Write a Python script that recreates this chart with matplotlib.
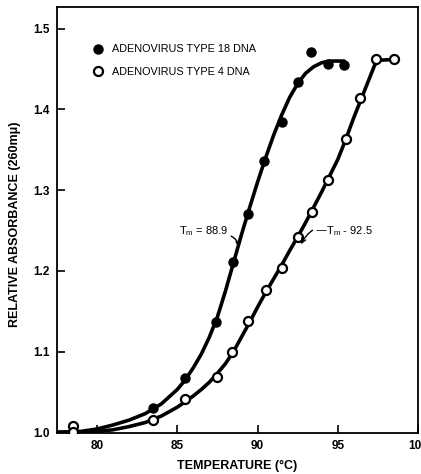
import matplotlib
matplotlib.use("Agg")
import matplotlib.pyplot as plt

# Data points: Adenovirus type 18 DNA (filled)
t18_x = [83.5, 85.5, 87.4, 88.5, 89.4, 90.4, 91.5, 92.5, 93.3, 94.4, 95.4]
t18_y = [1.030, 1.067, 1.136, 1.211, 1.271, 1.336, 1.385, 1.434, 1.471, 1.456, 1.455]

# Adenovirus type 4 DNA (open)
t4_x = [78.5, 78.5, 83.5, 85.5, 87.5, 88.4, 89.4, 90.5, 91.5, 92.5, 93.4, 94.4, 95.5, 96.4, 97.4, 98.5]
t4_y = [1.008, 1.000, 1.015, 1.041, 1.069, 1.100, 1.138, 1.176, 1.203, 1.242, 1.273, 1.312, 1.364, 1.414, 1.462, 1.462]

# Hand-drawn fitted curves
c18_x = [77.6, 79, 80, 81, 82, 83, 84, 85, 85.5, 86, 86.5, 87, 87.5, 88, 88.5, 89, 89.5, 90,
         90.5, 91, 91.5, 92, 92.5, 93, 93.5, 94, 94.5, 95.4]
c18_y = [1.0, 1.001, 1.004, 1.009, 1.015, 1.023, 1.035, 1.053, 1.065, 1.08, 1.097, 1.118, 1.143,
         1.175, 1.21, 1.245, 1.278, 1.31, 1.34, 1.368, 1.393, 1.415, 1.432, 1.445, 1.453, 1.458,
         1.46, 1.46]
c4_x = [77.6, 79, 80, 81, 82, 83, 84, 85, 85.5, 86, 86.5, 87, 87.5, 88, 88.5, 89, 89.5, 90, 90.5,
        91, 91.5, 92, 92.5, 93, 93.5, 94, 94.5, 95, 95.5, 96, 96.5, 97, 97.3, 97.6, 98.5]
c4_y = [1.0, 1.0, 1.001, 1.003, 1.007, 1.012, 1.02, 1.031, 1.038, 1.045, 1.053, 1.062, 1.073,
        1.085, 1.1, 1.118, 1.136, 1.155, 1.173, 1.19, 1.207, 1.225, 1.242, 1.26, 1.279, 1.298,
        1.318, 1.338, 1.363, 1.39, 1.415, 1.44, 1.455, 1.461, 1.462]

x_ticks = [80, 85, 90, 95, 100]
y_ticks = [1.0, 1.1, 1.2, 1.3, 1.4, 1.5]
legend_labels = ["ADENOVIRUS TYPE 18 DNA", "ADENOVIRUS TYPE 4 DNA"]

plt.rcParams['font.family'] = ['Liberation Sans', 'DejaVu Sans']
plt.rcParams['mathtext.default'] = 'regular'

fig = plt.figure(figsize=(4.21, 4.74), dpi=100)
ax = fig.add_axes([57/421, 1-433/474, (418-57)/421, (433-7)/474])

ax.plot(c18_x, c18_y, color='black', lw=2.6, solid_capstyle='round', solid_joinstyle='round', zorder=2)
ax.plot(c4_x, c4_y, color='black', lw=2.6, solid_capstyle='round', solid_joinstyle='round', zorder=2)
h1, = ax.plot(t18_x, t18_y, 'o', ms=6.5, mfc='black', mec='black', zorder=3, label=legend_labels[0])
h2, = ax.plot(t4_x, t4_y, 'o', ms=6.5, mfc='white', mec='black', mew=1.6, zorder=3, label=legend_labels[1])

ax.set_xlim(77.5, 99.8)
ax.set_ylim(0.999, 1.527)
ax.set_xticks(x_ticks)
ax.set_xticklabels([str(v) for v in x_ticks], fontweight='bold', fontsize=8.5)
ax.set_yticks(y_ticks)
ax.set_yticklabels([f"{v:.1f}" for v in y_ticks], fontweight='bold', fontsize=8.5)
ax.tick_params(direction='in', length=6, width=1.2)
ax.tick_params(axis='y', pad=5)
ax.tick_params(axis='x', pad=5)
for s in ax.spines.values():
    s.set_linewidth(1.3)

ax.set_xlabel("TEMPERATURE (°C)", fontweight='bold', fontsize=9, labelpad=6)
ax.set_ylabel("RELATIVE ABSORBANCE (260mμ)", fontweight='bold', fontsize=9, labelpad=6)
ax.yaxis.set_label_coords(-0.1, 0.49)

leg = ax.legend(handles=[h1, h2], loc='upper left', bbox_to_anchor=(0.075, 0.935), frameon=False,
                fontsize=7.8, handlelength=0.8, handletextpad=0.9, labelspacing=1.15)

ax.annotate(r"T$_m$ = 88.9", xy=(88.8, 1.229), xytext=(85.1, 1.249), fontsize=8,
            va='center', ha='left',
            arrowprops=dict(arrowstyle='->', color='black', lw=1.0,
                            connectionstyle="angle3,angleA=0,angleB=-90", shrinkA=0, shrinkB=0))
ax.annotate(r"—T$_m$ - 92.5", xy=(92.7, 1.233), xytext=(93.6, 1.249), fontsize=8,
            va='center', ha='left',
            arrowprops=dict(arrowstyle='->', color='black', lw=1.0,
                            connectionstyle="arc3,rad=0.5", shrinkA=0, shrinkB=0))

fig.savefig("out.png", dpi=100)
